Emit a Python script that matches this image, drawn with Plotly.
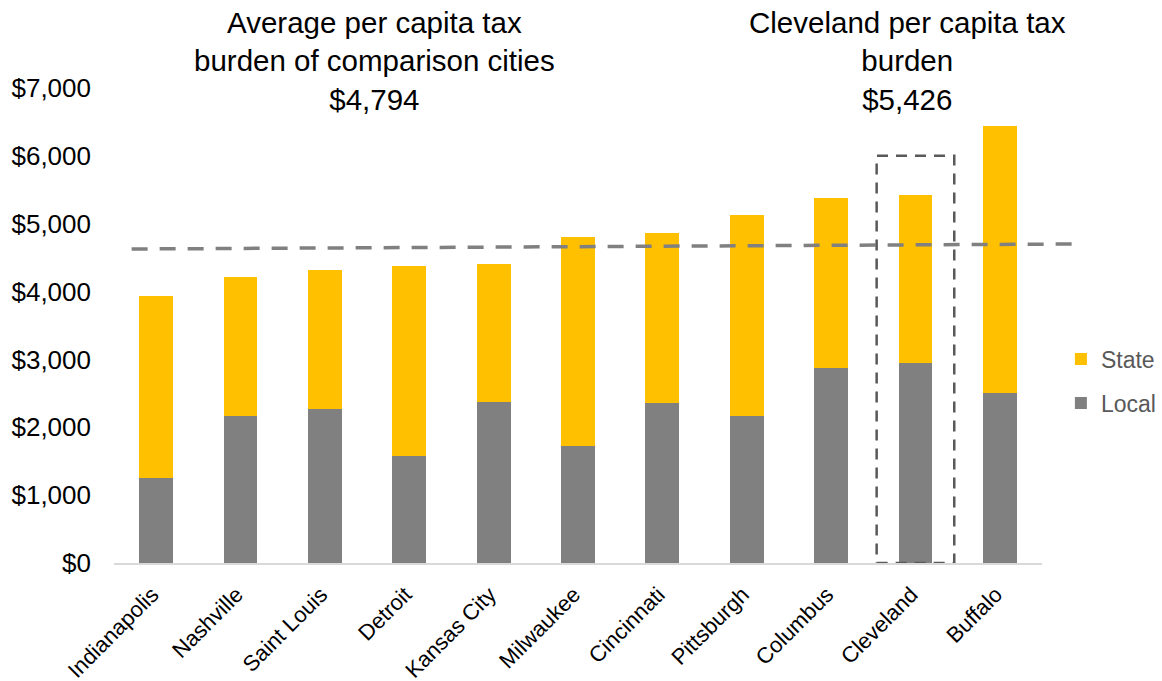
import plotly.graph_objects as go

cities = ["Indianapolis", "Nashville", "Saint Louis", "Detroit", "Kansas City",
          "Milwaukee", "Cincinnati", "Pittsburgh", "Columbus", "Cleveland", "Buffalo"]
local_vals = [1253, 2166, 2269, 1577, 2373, 1724, 2358, 2166, 2874, 2947, 2505]
total_vals = [3935, 4215, 4318, 4377, 4406, 4804, 4863, 5128, 5379, 5426, 6440]
state_vals = [t - l for t, l in zip(total_vals, local_vals)]

avg_line_left = 4627
avg_line_right = 4701
box_top = 6000
y_ticks = [0, 1000, 2000, 3000, 4000, 5000, 6000, 7000]
y_tick_text = ["$0", "$1,000", "$2,000", "$3,000", "$4,000", "$5,000", "$6,000", "$7,000"]

FONT = "Liberation Sans, Arial, sans-serif"

fig = go.Figure()
fig.add_trace(go.Bar(x=cities, y=local_vals, name="Local", legendgroup="local", legendrank=2,
                     marker=dict(color="#808080", line=dict(width=0)), width=0.4))
fig.add_trace(go.Bar(x=cities, y=state_vals, name="State", legendgroup="state", legendrank=1,
                     marker=dict(color="#FFC000", line=dict(width=0)), width=0.4))

fig.update_layout(
    barmode="stack",
    width=1162, height=681,
    margin=dict(l=114, r=120, t=88, b=118, autoexpand=False),
    plot_bgcolor="white", paper_bgcolor="white",
    font=dict(family=FONT, color="#000000"),
    showlegend=True,
    legend=dict(traceorder="grouped", xref="container", x=0.913, y=0.383,
                yanchor="middle", xanchor="left",
                font=dict(size=23, color="#595959", family=FONT), itemwidth=30,
                tracegroupgap=11),
    xaxis=dict(showline=True, linecolor="#D9D9D9", linewidth=2, tickangle=-45,
               tickfont=dict(size=22, color="#000000"), showgrid=False, ticks="",
               range=[-0.5, 10.5], automargin=False, ticklabelshift=-4,
               ticklabelstandoff=8),
    yaxis=dict(range=[0, 7000], tickvals=y_ticks, ticktext=y_tick_text,
               showgrid=False, zeroline=False, showline=False, automargin=False,
               tickfont=dict(size=26, color="#000000"), ticks="", ticklabelstandoff=22),
    shapes=[
        dict(type="line", xref="paper", yref="y", x0=0.019, x1=1.034,
             y0=avg_line_left, y1=avg_line_right,
             line=dict(color="#808080", width=3.5, dash="16px,12px"), layer="above"),
        dict(type="rect", xref="x", yref="y", x0=8.54, x1=9.46, y0=0, y1=box_top,
             line=dict(color="#595959", width=2.5, dash="11px,8px"), layer="above"),
    ],
    annotations=[
        dict(text="Average per capita tax<br>burden of comparison cities<br>$4,794",
             xref="paper", yref="paper", x=0.281, y=1.0568, xanchor="center", yanchor="middle",
             showarrow=False, font=dict(size=29.5, color="#000000", family=FONT)),
        dict(text="Cleveland per capita tax<br>burden<br>$5,426",
             xref="paper", yref="paper", x=0.855, y=1.0568, xanchor="center", yanchor="middle",
             showarrow=False, font=dict(size=29.5, color="#000000", family=FONT)),
    ],
)

fig.write_html("out.html", config={"displayModeBar": False},
               post_script="document.body.style.margin='0';document.body.style.overflow='hidden';")
